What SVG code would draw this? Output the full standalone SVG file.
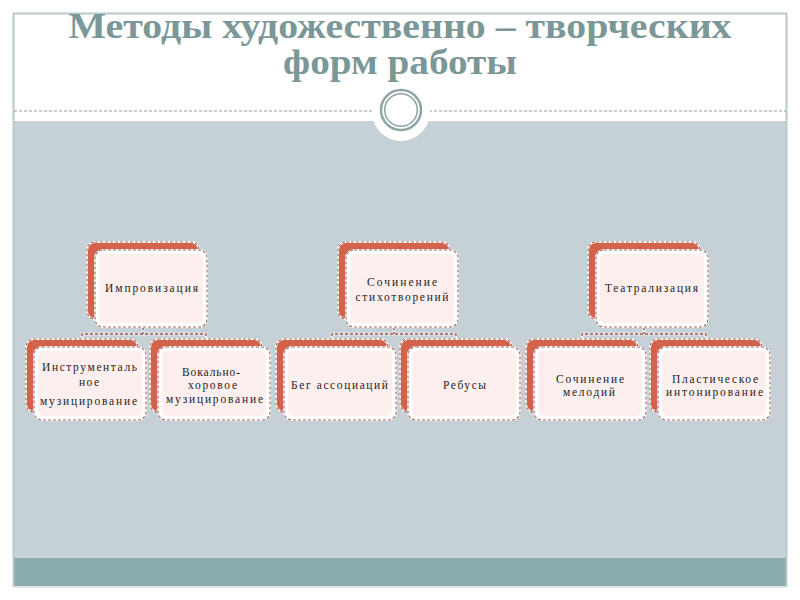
<svg xmlns="http://www.w3.org/2000/svg" xmlns:xlink="http://www.w3.org/1999/xlink" width="800" height="600" viewBox="0 0 800 600">
<style>
.title{font-family:"Liberation Serif","Times New Roman",serif;font-weight:bold;font-size:35px;fill:#7b9797;text-anchor:middle}
.lbl{font-family:"Liberation Serif","Times New Roman",serif;font-size:11.5px;fill:#1e1e1e;text-anchor:middle}
.back{fill:#d3624a;stroke:#ffffff;stroke-width:2}
.edge{fill:none;stroke:#a5645b;stroke-width:1.1;stroke-dasharray:3 2}
.front{fill:#ffffff;stroke:#ffffff;stroke-width:2}
.inner{fill:#fcefee}
.conw{fill:none;stroke:#e8e8e8;stroke-width:3}
.con{fill:none;stroke:#9a5a52;stroke-width:1.3;stroke-dasharray:3 2}
</style>
<defs>
<g id="topShape">
<rect class="back" x="-8" y="-8" width="112" height="77" rx="8"/>
<rect class="edge" x="-8" y="-8" width="112" height="77" rx="8"/>
<rect class="front" x="0" y="0" width="112" height="77" rx="8"/>
<rect class="inner" x="4" y="4" width="104" height="69" rx="5"/>
<rect class="edge" x="0" y="0" width="112" height="77" rx="8"/>
</g>
<g id="childShape">
<rect class="back" x="-8" y="-8" width="112" height="73" rx="8"/>
<rect class="edge" x="-8" y="-8" width="112" height="73" rx="8"/>
<rect class="front" x="0" y="0" width="112" height="73" rx="8"/>
<rect class="inner" x="4" y="4" width="104" height="65" rx="5"/>
<rect class="edge" x="0" y="0" width="112" height="73" rx="8"/>
</g>
</defs>
<rect x="0" y="0" width="800" height="600" fill="#ffffff"/>
<g id="frame">
<rect x="14" y="121" width="772" height="437" fill="#c5d1d6"/>
<rect x="14" y="558" width="772" height="28" fill="#8aabab"/>
<path d="M13.5 587 V13.5 H786.5 V587" fill="none" stroke="#bcc8ca" stroke-width="2"/>
<line x1="14" y1="587" x2="786" y2="587" stroke="#d5dfe0" stroke-width="1.5"/>
<line x1="14" y1="111" x2="786" y2="111" stroke="#8e9d9d" stroke-width="1" stroke-dasharray="3 2"/>
<circle cx="401" cy="112" r="29" fill="#ffffff"/>
<circle cx="401" cy="110" r="20" fill="#ffffff" stroke="#8ea3a3" stroke-width="2.5"/>
<circle cx="401" cy="110" r="16.3" fill="none" stroke="#8ea3a3" stroke-width="1.5"/>
</g>
<g id="title">
<text class="title" x="400" y="38" textLength="663" lengthAdjust="spacingAndGlyphs">Методы художественно – творческих</text>
<text class="title" x="400" y="74" textLength="234" lengthAdjust="spacingAndGlyphs">форм работы</text>
</g>
<g id="connectors">
<path class="conw" d="M143 327 V334 M82 341 V334 H206 V341"/>
<path class="con" d="M143 327 V334 M82 341 V334 H206 V341"/>
<path class="conw" d="M394 327 V334 M332 341 V334 H456 V341"/>
<path class="con" d="M394 327 V334 M332 341 V334 H456 V341"/>
<path class="conw" d="M644 327 V334 M582 341 V334 H706 V341"/>
<path class="con" d="M644 327 V334 M582 341 V334 H706 V341"/>
</g>
<g id="n-improv">
<use xlink:href="#topShape" x="95" y="250"/>
<text class="lbl" x="151.5" y="292" textLength="93" lengthAdjust="spacing">Импровизация</text>
</g>
<g id="n-poems">
<use xlink:href="#topShape" x="346" y="250"/>
<text class="lbl" x="402" y="286" textLength="70" lengthAdjust="spacing">Сочинение</text>
<text class="lbl" x="402" y="301" textLength="93" lengthAdjust="spacing">стихотворений</text>
</g>
<g id="n-theatre">
<use xlink:href="#topShape" x="596" y="250"/>
<text class="lbl" x="651.5" y="292" textLength="93" lengthAdjust="spacing">Театрализация</text>
</g>
<g id="n-instr">
<use xlink:href="#childShape" x="34" y="347"/>
<text class="lbl" x="89.5" y="371" textLength="95" lengthAdjust="spacing">Инструменталь</text>
<text class="lbl" x="89" y="386" textLength="20" lengthAdjust="spacing">ное</text>
<text class="lbl" x="88.5" y="405" textLength="97" lengthAdjust="spacing">музицирование</text>
</g>
<g id="n-vocal">
<use xlink:href="#childShape" x="158" y="347"/>
<text class="lbl" x="211" y="376" textLength="58" lengthAdjust="spacing">Вокально-</text>
<text class="lbl" x="212.5" y="389" textLength="49" lengthAdjust="spacing">хоровое</text>
<text class="lbl" x="214.5" y="403" textLength="97" lengthAdjust="spacing">музицирование</text>
</g>
<g id="n-assoc">
<use xlink:href="#childShape" x="284" y="347"/>
<text class="lbl" x="339.5" y="389" textLength="97" lengthAdjust="spacing">Бег ассоциаций</text>
</g>
<g id="n-rebus">
<use xlink:href="#childShape" x="408" y="347"/>
<text class="lbl" x="464.5" y="389" textLength="43" lengthAdjust="spacing">Ребусы</text>
</g>
<g id="n-melody">
<use xlink:href="#childShape" x="534" y="347"/>
<text class="lbl" x="590" y="383" textLength="68" lengthAdjust="spacing">Сочинение</text>
<text class="lbl" x="589" y="396" textLength="52" lengthAdjust="spacing">мелодий</text>
</g>
<g id="n-plastic">
<use xlink:href="#childShape" x="658" y="347"/>
<text class="lbl" x="715" y="383" textLength="86" lengthAdjust="spacing">Пластическое</text>
<text class="lbl" x="714.5" y="396" textLength="97" lengthAdjust="spacing">интонирование</text>
</g>
</svg>
